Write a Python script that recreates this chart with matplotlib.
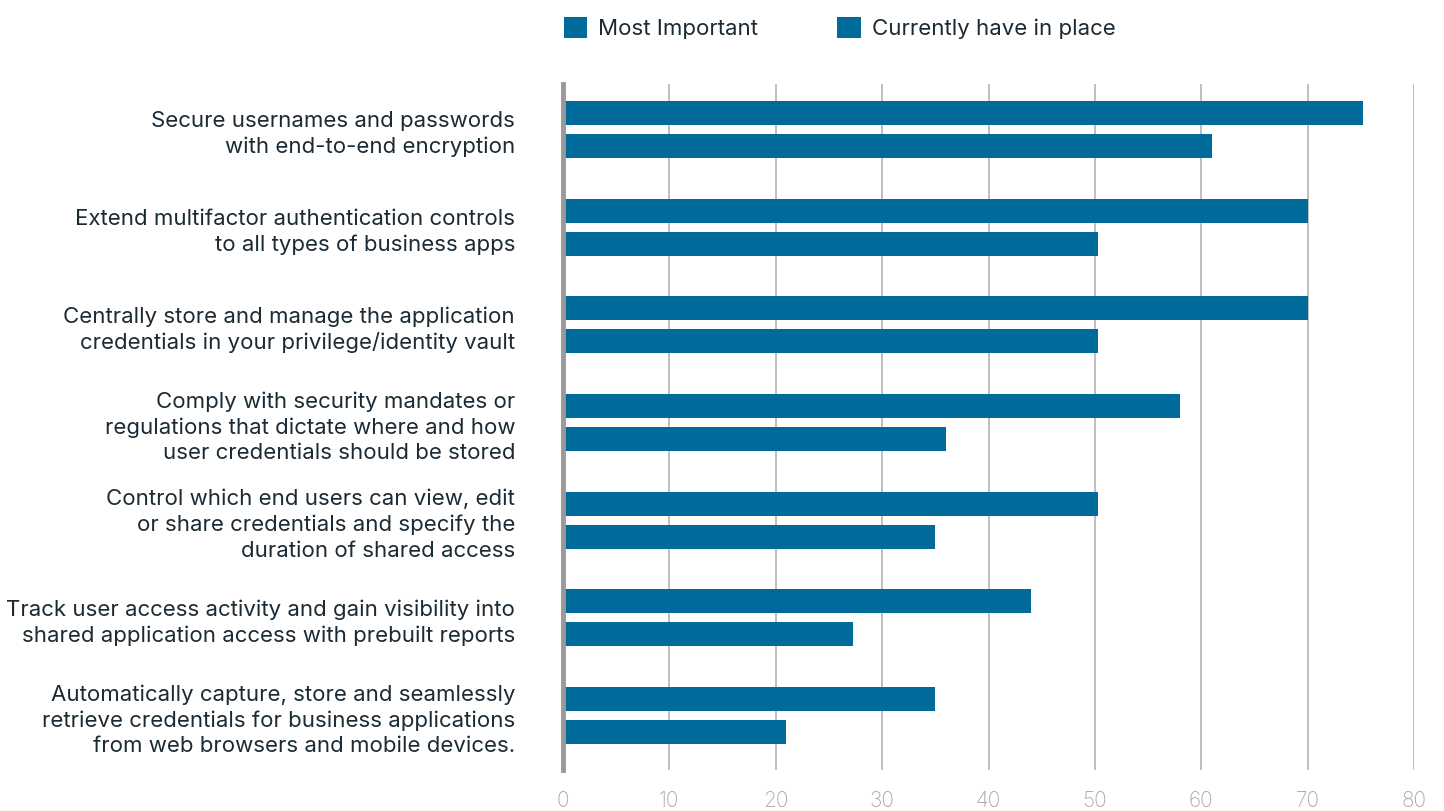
import matplotlib.pyplot as plt
import numpy as np

categories = [
    "Secure usernames and passwords\nwith end-to-end encryption",
    "Extend multifactor authentication controls\nto all types of business apps",
    "Centrally store and manage the application\ncredentials in your privilege/identity vault",
    "Comply with security mandates or\nregulations that dictate where and how\nuser credentials should be stored",
    "Control which end users can view, edit\nor share credentials and specify the\nduration of shared access",
    "Track user access activity and gain visibility into\nshared application access with prebuilt reports",
    "Automatically capture, store and seamlessly\nretrieve credentials for business applications\nfrom web browsers and mobile devices.",
]
most_important = [75.2, 70, 70, 58, 50.3, 44, 35]
currently_have = [61, 50.3, 50.3, 36, 35, 27.3, 21]
series_names = ["Most Important", "Currently have in place"]
xticks = [0, 10, 20, 30, 40, 50, 60, 70, 80]

BAR = "#006B9A"
TEXT = "#1b2a33"
GRID = "#b3b3b3"

plt.rcParams["font.family"] = ["Inter", "DejaVu Sans"]

fig = plt.figure(figsize=(14.44, 8.11), dpi=100)
ax = fig.add_axes([563 / 1444, 1 - 770 / 811, (1414 - 563) / 1444, (770 - 84) / 811])

y = np.arange(len(categories))
h = 0.246
off = 0.169
b1 = ax.barh(y - off, most_important, height=h, color=BAR, zorder=3)
b2 = ax.barh(y + off, currently_have, height=h, color=BAR, zorder=3)

ax.set_ylim(6.558, -0.466)
ax.set_xlim(0, 80)
ax.set_xticks(xticks)
ax.tick_params(axis="x", length=0, pad=15, labelsize=15, labelcolor="#a8a8a8")
ax.tick_params(axis="y", length=0, pad=34.5, labelsize=16, labelcolor=TEXT)
ax.set_yticks(y)
ax.set_yticklabels(categories, ha="right", linespacing=1.33)
for lbl in ax.get_xticklabels():
    lbl.set_fontweight("light")

ax.grid(axis="x", color=GRID, linewidth=1.2, zorder=0)
for side in ["top", "right", "bottom"]:
    ax.spines[side].set_visible(False)
ax.spines["left"].set_color("#999999")
ax.spines["left"].set_linewidth(3.5)
ax.spines["left"].set_zorder(4)

fig.legend([b1, b2], series_names, loc="upper left", bbox_to_anchor=(544 / 1444, 1 + 3 / 811),
           ncol=2, frameon=False, fontsize=16, handlelength=1.05, handleheight=1.05,
           columnspacing=3.55, handletextpad=0.5, labelcolor=TEXT)

fig.savefig("out.png", dpi=100)
